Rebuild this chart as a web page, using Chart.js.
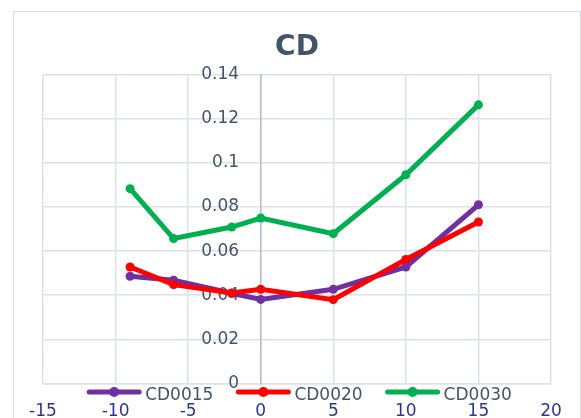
<!DOCTYPE html>
<html>
<head>
<meta charset="utf-8">
<script src="https://cdn.jsdelivr.net/npm/chart.js@4"></script>
<style>
  html, body { margin: 0; padding: 0; background: #fff; overflow: hidden; }
  #wrap { position: relative; width: 581px; height: 418px; }
  #frame { position: absolute; left: 13px; top: 11px; width: 568px; height: 440px; border: 1px solid #dadde3; box-sizing: border-box; }
  canvas { position: absolute; left: 0; top: 0; }
</style>
</head>
<body>
<div id="wrap">
  <div id="frame"></div>
  <canvas id="cdChart" width="581" height="418"></canvas>
</div>
<script>
// values
const xValues = [-9, -6, -2, 0, 5, 10, 15];
const cd0015 = [0.0486, 0.0468, 0.0409, 0.0381, 0.0427, 0.0528, 0.0810];
const cd0020 = [0.0528, 0.0448, 0.0410, 0.0427, 0.0380, 0.0562, 0.0732];
const cd0030 = [0.0883, 0.0657, 0.0709, 0.0750, 0.0679, 0.0946, 0.1263];
const seriesNames = ['CD0015', 'CD0020', 'CD0030'];
const seriesColors = ['#7030a0', '#ff0000', '#00b050'];
const xRange = [-15, 20];
const yRange = [0, 0.14];

const FONT = '"DejaVu Sans", Verdana, sans-serif';
const GREY = '#44546a';

const toPoints = vals => xValues.map((x, i) => ({ x: x, y: vals[i] }));

// Excel style legend: thick line with a marker, sitting on the x axis
const lineLegend = {
    id: 'lineLegend',
    afterDraw(chart) {
        const ctx = chart.ctx;
        const y = 392;
        ctx.save();
        ctx.font = '17px ' + FONT;
        const items = chart.data.datasets.map(ds => ({
            label: ds.label, color: ds.borderColor,
            w: 50 + 5 + ctx.measureText(ds.label).width
        }));
        const gap = 26;
        const total = items.reduce((s, it) => s + it.w, 0) + gap * (items.length - 1);
        let x = 300 - total / 2;
        items.forEach(it => {
            ctx.strokeStyle = it.color;
            ctx.lineWidth = 5;
            ctx.lineCap = 'round';
            ctx.beginPath(); ctx.moveTo(x, y); ctx.lineTo(x + 50, y); ctx.stroke();
            ctx.fillStyle = it.color;
            ctx.beginPath(); ctx.arc(x + 25, y, 5, 0, Math.PI * 2); ctx.fill();
            ctx.fillStyle = GREY;
            ctx.textBaseline = 'middle';
            ctx.textAlign = 'left';
            ctx.fillText(it.label, x + 56, y + 4);
            x += it.w + gap;
        });
        ctx.restore();
    }
};

const ctx = document.getElementById('cdChart').getContext('2d');
const chart = new Chart(ctx, {
    type: 'scatter',
    data: {
        datasets: [
            { label: seriesNames[0], data: toPoints(cd0015), borderColor: seriesColors[0], backgroundColor: seriesColors[0], order: 2 },
            { label: seriesNames[1], data: toPoints(cd0020), borderColor: seriesColors[1], backgroundColor: seriesColors[1], order: 1 },
            { label: seriesNames[2], data: toPoints(cd0030), borderColor: seriesColors[2], backgroundColor: seriesColors[2], order: 0 }
        ].map(ds => Object.assign(ds, { showLine: true, borderWidth: 5, pointRadius: 4.5, pointBorderWidth: 0, tension: 0 }))
    },
    options: {
        responsive: false,
        animation: false,
        layout: { padding: { left: 43, right: 30, top: 0, bottom: 0 } },
        plugins: {
            legend: { display: false },
            tooltip: { enabled: false },
            title: {
                display: true, text: 'CD', color: GREY,
                font: { family: FONT, size: 28, weight: 'bold' },
                padding: { top: 31, bottom: 10 }
            }
        },
        scales: {
            x: {
                type: 'linear', min: xRange[0], max: xRange[1],
                ticks: { stepSize: 5, color: '#2f3592', padding: 18, font: { family: FONT, size: 17 } },
                grid: { color: '#dde1e8', lineWidth: 1.5, drawTicks: false },
                border: { color: '#dde1e8', width: 1.5 },
                afterFit: s => { s.height = 34.5; }
            },
            y: {
                type: 'linear', min: yRange[0], max: yRange[1],
                position: { x: 0 },
                ticks: {
                    stepSize: 0.02, color: GREY,
                    font: { family: FONT, size: 17 },
                    // labels of an axis placed at a value get no padding, so pad with spaces
                    callback: v => String(Number(v.toFixed(2))) + '    '
                },
                grid: { color: '#dde1e8', lineWidth: 1.5, drawTicks: false },
                border: { color: '#b4bdcc', width: 1.5 }
            }
        }
    },
    plugins: [lineLegend]
});
</script>
</body>
</html>
